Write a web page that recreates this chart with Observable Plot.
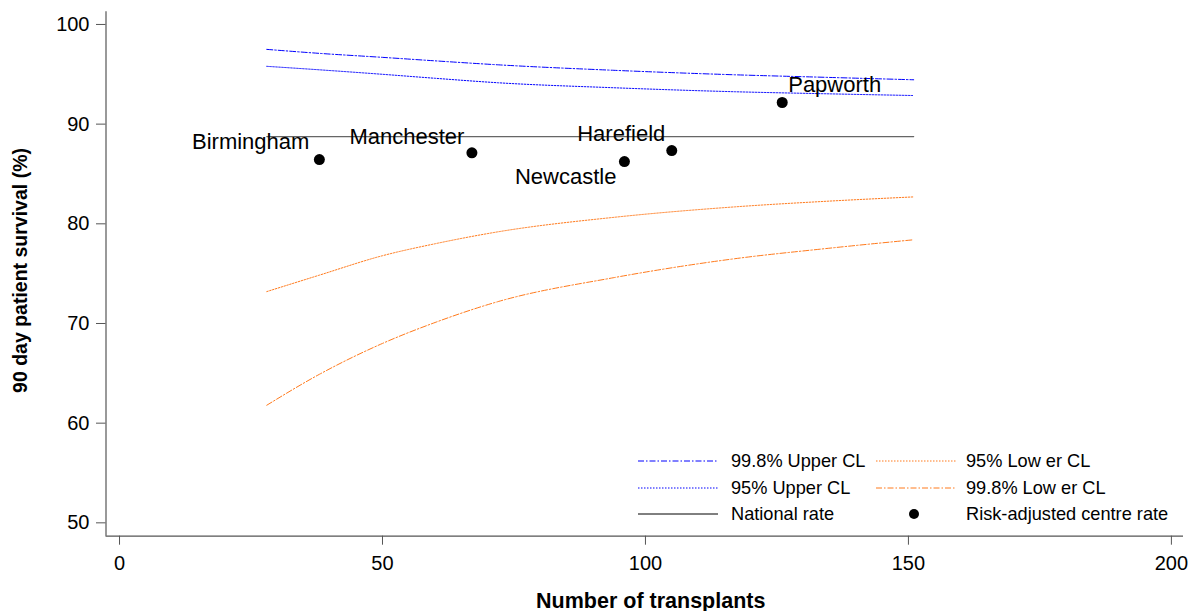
<!DOCTYPE html>
<html>
<head>
<meta charset="utf-8">
<script src="https://cdn.jsdelivr.net/npm/d3@7"></script>
<script src="https://cdn.jsdelivr.net/npm/@observablehq/plot@0.6"></script>
<style>
  body { margin: 0; background: #fff; }
  #chart { position: relative; width: 1189px; height: 611px; font-family: "Liberation Sans", Arial, sans-serif; }
  #legend { position: absolute; left: 0; top: 0; pointer-events: none; }
</style>
</head>
<body>
<div id="chart"></div>
<script>
// ---- data ----
const transplantsN = [28, 38, 50, 60, 72, 94, 117, 134, 151];
const upper998 = [97.5, 97.1, 96.7, 96.35, 95.95, 95.4, 94.95, 94.7, 94.45];
const upper95  = [95.8, 95.45, 95.0, 94.6, 94.15, 93.65, 93.25, 93.05, 92.87];
const lower95  = [73.2, 74.85, 76.8, 78.0, 79.2, 80.65, 81.7, 82.25, 82.7];
const lower998 = [61.8, 64.9, 68.0, 70.1, 72.2, 74.6, 76.5, 77.5, 78.4];
const nationalRate = 88.75;
const nationalRange = [28, 151];
const centres = ["Birmingham", "Manchester", "Newcastle", "Harefield", "Papworth"];
const centreN = [38, 67, 96, 105, 126];
const centreRate = [86.45, 87.12, 86.25, 87.35, 92.17];
const xTicks = [0, 50, 100, 150, 200];
const yTicks = [50, 60, 70, 80, 90, 100];
const legendLabels = ["99.8% Upper CL", "95% Upper CL", "National rate", "95% Low er CL", "99.8% Low er CL", "Risk-adjusted centre rate"];

// ---- styling ----
const FONT = '"Liberation Sans", Arial, sans-serif';
const BLUE = "#0000ff";
const ORANGE = "#ff7a1c";
const DASHDOT = "6,2,1.5,2";
const DOTTED = "1.5,1.5";
const AXIS = "#555";
const xDomain = [-2.57, 202.3];
const yDomain = [48.66, 101.27];

// label placement (pixel offsets relative to each dot)
const labelPlace = {
  Birmingham: {anchor: "end",   dx: -10, dy: -17.5},
  Manchester: {anchor: "end",   dx: -7.5, dy: -15.5},
  Newcastle:  {anchor: "end",   dx: -8,  dy: 15},
  Harefield:  {anchor: "end",   dx: -6.5, dy: -17},
  Papworth:   {anchor: "start", dx: 6,   dy: -17.5}
};

const series = (vals) => transplantsN.map((n, i) => ({n, v: vals[i]}));
const centreData = centres.map((name, i) => ({name, n: centreN[i], v: centreRate[i]}));
const national = nationalRange.map(n => ({n, v: nationalRate}));

const labelMarks = centreData.map(d => {
  const p = labelPlace[d.name];
  return Plot.text([d], {x: "n", y: "v", text: "name", textAnchor: p.anchor, dx: p.dx, dy: p.dy,
    fontSize: 22, fill: "#000"});
});

const plot = Plot.plot({
  width: 1189,
  height: 611,
  marginLeft: 105.5,
  marginRight: 6,
  marginTop: 11.3,
  marginBottom: 75.3,
  style: {fontFamily: FONT, background: "#fff", overflow: "visible"},
  x: {domain: xDomain},
  y: {domain: yDomain},
  marks: [
    Plot.axisY(yTicks, {tickSize: 9.5, tickPadding: 7, fontSize: 20, stroke: AXIS, fill: "#000", label: null}),
    Plot.axisX(xTicks, {tickSize: 9, tickPadding: 11, fontSize: 20, stroke: AXIS, fill: "#000", label: null}),
    Plot.ruleX([xDomain[0]], {stroke: AXIS, strokeWidth: 1.2}),
    Plot.ruleY([yDomain[0]], {stroke: AXIS, strokeWidth: 1.2}),
    Plot.line(national, {x: "n", y: "v", stroke: "#666", strokeWidth: 1.2}),
    Plot.line(series(upper998), {x: "n", y: "v", stroke: BLUE, strokeWidth: 1, strokeDasharray: DASHDOT, curve: "monotone-x"}),
    Plot.line(series(upper95),  {x: "n", y: "v", stroke: BLUE, strokeWidth: 1, strokeDasharray: DOTTED, curve: "monotone-x"}),
    Plot.line(series(lower95),  {x: "n", y: "v", stroke: ORANGE, strokeWidth: 1, strokeDasharray: DOTTED, curve: "monotone-x"}),
    Plot.line(series(lower998), {x: "n", y: "v", stroke: ORANGE, strokeWidth: 1, strokeDasharray: DASHDOT, curve: "monotone-x"}),
    Plot.dot(centreData, {x: "n", y: "v", r: 5.5, fill: "#000", stroke: "none"}),
    ...labelMarks,
    Plot.text(["90 day patient survival (%)"], {frameAnchor: "left", textAnchor: "middle", lineAnchor: "middle",
      dx: -85.5, dy: -3.5, rotate: -90, fontSize: 19.5, fontWeight: "bold", fill: "#000"}),
    Plot.text(["Number of transplants"], {frameAnchor: "bottom", textAnchor: "middle", lineAnchor: "middle",
      dx: 6, dy: 65, fontSize: 21.5, fontWeight: "bold", fill: "#000"})
  ]
});
document.getElementById("chart").appendChild(plot);

// ---- legend (overlay) ----
const legendItems = [
  {label: legendLabels[0], kind: "line", stroke: BLUE, dash: DASHDOT, col: 0, row: 0},
  {label: legendLabels[1], kind: "line", stroke: BLUE, dash: DOTTED, col: 0, row: 1},
  {label: legendLabels[2], kind: "line", stroke: "#000", dash: null, col: 0, row: 2},
  {label: legendLabels[3], kind: "line", stroke: ORANGE, dash: DOTTED, col: 1, row: 0},
  {label: legendLabels[4], kind: "line", stroke: ORANGE, dash: DASHDOT, col: 1, row: 1},
  {label: legendLabels[5], kind: "dot", col: 1, row: 2}
];
const colSwatch = [638, 876], colText = [731, 966], rowY = [461, 488, 514];
const svg = d3.select("#chart").append("svg").attr("id", "legend")
  .attr("width", 1189).attr("height", 611);
const g = svg.selectAll("g").data(legendItems).join("g")
  .attr("transform", d => `translate(0,${rowY[d.row]})`);
g.filter(d => d.kind === "line").append("line")
  .attr("x1", d => colSwatch[d.col]).attr("x2", d => colSwatch[d.col] + 80)
  .attr("y1", 0).attr("y2", 0)
  .attr("stroke", d => d.stroke).attr("stroke-width", 1)
  .attr("stroke-dasharray", d => d.dash);
g.filter(d => d.kind === "dot").append("circle")
  .attr("cx", d => colSwatch[d.col] + 38).attr("cy", 0).attr("r", 5).attr("fill", "#000");
g.append("text")
  .attr("x", d => colText[d.col]).attr("y", 0).attr("dy", "0.35em")
  .attr("font-family", FONT).attr("font-size", 18.2).attr("fill", "#000")
  .text(d => d.label);
</script>
</body>
</html>
